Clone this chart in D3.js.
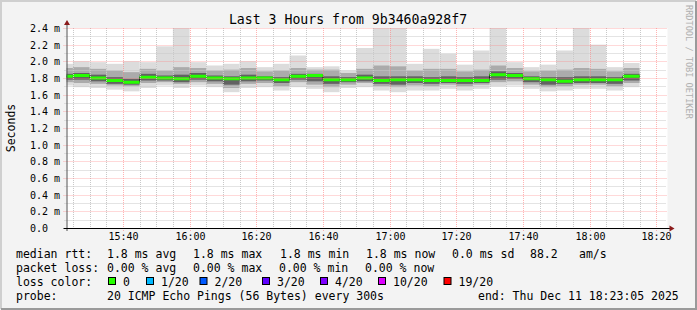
<!DOCTYPE html>
<html>
<head>
<meta charset="utf-8">
<script src="https://cdn.jsdelivr.net/npm/d3@7"></script>
<style>
  body { margin: 0; background: #f3f3f3; }
  svg text { font-family: "DejaVu Sans Mono", monospace; }
</style>
</head>
<body>
<svg width="697" height="310"></svg>
<script>
// interval end times (5 minute steps)
var times = ["15:25","15:30","15:35","15:40","15:45","15:50","15:55","16:00","16:05","16:10",
             "16:15","16:20","16:25","16:30","16:35","16:40","16:45","16:50","16:55","17:00",
             "17:05","17:10","17:15","17:20","17:25","17:30","17:35","17:40","17:45","17:50",
             "17:55","18:00","18:05","18:10","18:15"];

// ms values
var median  = [1.82,1.83,1.80,1.77,1.75,1.81,1.80,1.79,1.82,1.80,1.79,1.80,1.80,1.78,1.82,1.83,1.78,1.78,1.80,1.77,
               1.78,1.78,1.77,1.77,1.77,1.77,1.84,1.83,1.79,1.78,1.76,1.78,1.78,1.78,1.82];
var pingMax = [1.97,2.00,1.99,1.97,2.00,1.99,2.18,2.45,1.99,1.95,1.97,2.00,1.93,1.97,2.07,1.93,1.94,1.89,2.16,2.45,
               2.45,1.97,2.15,2.09,1.96,2.13,2.45,1.99,1.93,1.96,2.13,2.45,2.20,1.93,1.98];
var pingMin = [1.71,1.69,1.68,1.66,1.64,1.68,1.71,1.68,1.71,1.69,1.63,1.68,1.69,1.65,1.69,1.67,1.63,1.68,1.69,1.65,
               1.63,1.65,1.65,1.67,1.65,1.67,1.70,1.71,1.67,1.64,1.65,1.67,1.67,1.65,1.69];
var midHi   = [1.92,1.93,1.91,1.89,1.87,1.91,1.89,1.93,1.92,1.89,1.90,1.92,1.88,1.89,1.92,1.90,1.90,1.86,1.91,1.95,
               1.94,1.89,1.91,1.91,1.88,1.90,1.95,1.92,1.88,1.89,1.90,1.92,1.91,1.88,1.92];
var midLo   = [1.75,1.74,1.73,1.71,1.70,1.74,1.75,1.73,1.75,1.73,1.68,1.73,1.74,1.70,1.75,1.72,1.69,1.72,1.74,1.70,
               1.69,1.71,1.70,1.72,1.70,1.72,1.75,1.76,1.72,1.69,1.70,1.72,1.72,1.70,1.74];
var innerHi = [1.85,1.86,1.84,1.81,1.79,1.85,1.83,1.84,1.86,1.83,1.82,1.84,1.82,1.81,1.85,1.85,1.82,1.81,1.84,1.82,
               1.82,1.82,1.81,1.82,1.81,1.82,1.88,1.86,1.82,1.81,1.81,1.82,1.82,1.81,1.85];
var innerLo = [1.78,1.78,1.76,1.73,1.72,1.77,1.77,1.75,1.78,1.76,1.72,1.76,1.77,1.74,1.78,1.76,1.73,1.75,1.76,1.73,
               1.72,1.74,1.73,1.74,1.73,1.74,1.78,1.79,1.75,1.72,1.73,1.74,1.74,1.73,1.77];

var yTickLabels = ["0.0","0.2 m","0.4 m","0.6 m","0.8 m","1.0 m","1.2 m","1.4 m","1.6 m","1.8 m","2.0 m","2.2 m","2.4 m"];
var lossLabels = ["0","1/20","2/20","3/20","4/20","10/20","19/20"];
var lossColors = ["#26ff00","#00b8ff","#0059ff","#5e00ff","#7e00ff","#dd00ff","#ff0000"];

var svg = d3.select("svg"),
    W = 697, H = 310,
    plot = {left: 66.5, right: 666.5, top: 28, bottom: 228};

var parseT = function(s) {
    var p = s.split(":");
    return new Date(2025, 11, 11, +p[0], +p[1], 0);
};
var tStart = new Date(2025, 11, 11, 15, 23, 5),
    tEnd = new Date(2025, 11, 11, 18, 23, 5);

var x = d3.scaleTime().domain([tStart, tEnd]).range([plot.left, plot.right]),
    y = d3.scaleLinear().domain([0, 2.4]).range([plot.bottom, plot.top]);

// frame
svg.append("rect").attr("width", W).attr("height", H).attr("fill", "#f3f3f3");
svg.append("path").attr("d", "M1,309 V1 H696").attr("fill", "none").attr("stroke", "#cfcfcf").attr("stroke-width", 2);
svg.append("path").attr("d", "M1,309 H696 V1").attr("fill", "none").attr("stroke", "#9a9a9a").attr("stroke-width", 2);

svg.append("rect")
    .attr("x", plot.left).attr("y", plot.top)
    .attr("width", plot.right - plot.left + 1).attr("height", plot.bottom - plot.top)
    .attr("fill", "#ffffff");

svg.append("clipPath").attr("id", "clip")
  .append("rect")
    .attr("x", plot.left).attr("y", plot.top)
    .attr("width", plot.right - plot.left + 1).attr("height", plot.bottom - plot.top);

var data = times.map(function(t, i) {
    var end = parseT(t);
    return {
        x0: x(new Date(end.getTime() - 300000)), x1: x(end),
        med: median[i], min: pingMin[i], max: pingMax[i],
        mLo: midLo[i], mHi: midHi[i], iLo: innerLo[i], iHi: innerHi[i]
    };
});

var g = svg.append("g").attr("clip-path", "url(#clip)");

// smoke bands, outer to inner
var bands = [
    {lo: "min", hi: "max", color: "#dcdcdc"},
    {lo: "mLo", hi: "mHi", color: "#ababab"},
    {lo: "iLo", hi: "iHi", color: "#626262"}
];
bands.forEach(function(b) {
    g.selectAll(null)
        .data(data)
        .enter().append("rect")
        .attr("x", function(d) { return d.x0; })
        .attr("width", function(d) { return d.x1 - d.x0; })
        .attr("y", function(d) { return y(d[b.hi]); })
        .attr("height", function(d) { return y(d[b.lo]) - y(d[b.hi]); })
        .attr("fill", b.color);
});

// grid
var minorY = d3.range(0, 25).map(function(i) { return i / 10; });
minorY.forEach(function(v, i) {
    if (i % 2 === 0) return;
    svg.append("line")
        .attr("x1", plot.left - 2).attr("x2", plot.right)
        .attr("y1", Math.round(y(v)) + 0.5).attr("y2", Math.round(y(v)) + 0.5)
        .attr("stroke", "#c8c8c8").attr("stroke-dasharray", "1,1");
});
var minorX = d3.timeMinute.every(5).range(tStart, tEnd);
minorX.forEach(function(t) {
    if (t.getMinutes() % 20 === 0) return;
    var px = Math.round(x(t)) + 0.5;
    svg.append("line")
        .attr("x1", px).attr("x2", px)
        .attr("y1", plot.top).attr("y2", plot.bottom + 2)
        .attr("stroke", "#c8c8c8").attr("stroke-dasharray", "1,1");
});
yTickLabels.forEach(function(lbl, i) {
    var py = Math.round(y(i * 0.2)) + 0.5;
    if (i > 0) {
        svg.append("line")
            .attr("x1", plot.left - 3).attr("x2", plot.right)
            .attr("y1", py).attr("y2", py)
            .attr("stroke", "#ff8080").attr("stroke-opacity", 0.6).attr("stroke-dasharray", "1,1");
    }
    svg.append("text")
        .attr("x", 30).attr("y", py + 3.5)
        .attr("font-size", "10px").attr("fill", "#000")
        .text(lbl);
});
var majorX = d3.timeMinute.every(20).range(tStart, tEnd);
var fmt = d3.timeFormat("%H:%M");
majorX.forEach(function(t) {
    var px = Math.round(x(t)) + 0.5;
    svg.append("line")
        .attr("x1", px).attr("x2", px)
        .attr("y1", plot.top).attr("y2", plot.bottom + 3)
        .attr("stroke", "#ff8080").attr("stroke-opacity", 0.6).attr("stroke-dasharray", "1,1");
    svg.append("text")
        .attr("x", px).attr("y", 240)
        .attr("text-anchor", "middle")
        .attr("font-size", "10px")
        .text(fmt(t));
});

// median line: dark step line underneath, loss colored segments on top
var line = d3.line()
    .x(function(d) { return d[0]; })
    .y(function(d) { return d[1]; });
var steps = [];
data.forEach(function(d) {
    steps.push([d.x0, y(d.med)]);
    steps.push([d.x1, y(d.med)]);
});
g.append("path")
    .attr("d", line(steps))
    .attr("fill", "none").attr("stroke", "#202020").attr("stroke-width", 1);
g.selectAll(".med")
    .data(data)
    .enter().append("line")
    .attr("class", "med")
    .attr("x1", function(d) { return d.x0; })
    .attr("x2", function(d) { return d.x1; })
    .attr("y1", function(d) { return y(d.med); })
    .attr("y2", function(d) { return y(d.med); })
    .attr("stroke", lossColors[0]).attr("stroke-width", 3);

// axes
svg.append("line")
    .attr("x1", plot.left + 0.5).attr("x2", plot.left + 0.5)
    .attr("y1", plot.bottom + 3).attr("y2", plot.top - 4)
    .attr("stroke", "#505050");
svg.append("path")
    .attr("d", "M" + (plot.left - 2.5) + "," + (plot.top - 3) + " L" + (plot.left + 3.5) + "," + (plot.top - 3) + " L" + (plot.left + 0.5) + "," + (plot.top - 8) + "Z")
    .attr("fill", "#8b1a1a");
svg.append("line")
    .attr("x1", plot.left - 3).attr("x2", plot.right + 4)
    .attr("y1", plot.bottom + 0.5).attr("y2", plot.bottom + 0.5)
    .attr("stroke", "#000");
svg.append("path")
    .attr("d", "M" + (plot.right + 3) + "," + (plot.bottom - 2.5) + " L" + (plot.right + 3) + "," + (plot.bottom + 3.5) + " L" + (plot.right + 8) + "," + (plot.bottom + 0.5) + "Z")
    .attr("fill", "#8b1a1a");

// title and labels
svg.append("text")
    .attr("x", 348).attr("y", 24)
    .attr("text-anchor", "middle")
    .attr("font-size", "13.2px")
    .text("Last 3 Hours from 9b3460a928f7");
svg.append("text")
    .attr("transform", "translate(14.5,128) rotate(-90)")
    .attr("text-anchor", "middle")
    .attr("font-size", "11.5px")
    .text("Seconds");
svg.append("text")
    .attr("transform", "translate(686,5) rotate(90)")
    .attr("font-size", "8.6px")
    .attr("fill", "#b0b0b0")
    .text("RRDTOOL / TOBI OETIKER");

// legend
var legend = [
    [258, [[16, "median rtt:"], [107, "1.8 ms avg"], [193, "1.8 ms max"], [280, "1.8 ms min"],
           [366, "1.8 ms now"], [452, "0.0 ms sd"], [530, "88.2"], [579, "am/s"]]],
    [272, [[16, "packet loss:"], [107, "0.00 % avg"], [193, "0.00 % max"], [279, "0.00 % min"], [365, "0.00 % now"]]],
    [286, [[16, "loss color:"]]],
    [300, [[16, "probe:"], [107, "20 ICMP Echo Pings (56 Bytes) every 300s"], [478, "end: Thu Dec 11 18:23:05 2025"]]]
];
legend.forEach(function(row) {
    row[1].forEach(function(item) {
        svg.append("text")
            .attr("x", item[0]).attr("y", row[0])
            .attr("font-size", "11.5px")
            .text(item[1]);
    });
});
var boxX = [108, 146, 199.5, 262, 320, 378, 443.5];
lossLabels.forEach(function(lbl, i) {
    svg.append("rect")
        .attr("x", boxX[i] + 0.5).attr("y", 277.5)
        .attr("width", 7).attr("height", 7)
        .attr("fill", lossColors[i]).attr("stroke", "#000");
    svg.append("text")
        .attr("x", boxX[i] + 15).attr("y", 286)
        .attr("font-size", "11.5px")
        .text(lbl);
});
</script>
</body>
</html>
